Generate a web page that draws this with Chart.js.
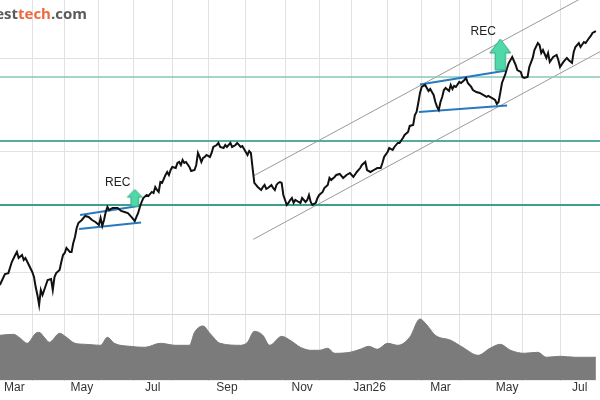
<!DOCTYPE html>
<html>
<head>
<meta charset="utf-8">
<script src="https://cdn.jsdelivr.net/npm/chart.js@4.4.1/dist/chart.umd.min.js"></script>
<style>
html, body { margin: 0; padding: 0; background: #fff; }
#wrap { position: relative; width: 600px; height: 400px; overflow: hidden; }
#logo { position: absolute; top: 3px; right: 513px; font: bold 15px "Open Sans", sans-serif; line-height: 20px; white-space: nowrap; color: #5a5a5a; }
#logo .t { color: #ee6a3c; }
</style>
</head>
<body>
<div id="wrap">
  <canvas id="chart" width="600" height="400"></canvas>
  <div id="logo">invest<span class="t">tech</span>.com</div>
</div>
<script>
// x unit = trading session counted from 3 Mar 2025 (Oslo calendar)
const viewStart = 2.1, viewEnd = 353.4;
const monthStarts = [0, 21, 40, 60, 80, 103, 124, 146, 169, 189, 208, 229, 249, 271, 290, 308, 330, 353];
const labelDays = [10.5, 50, 91.5, 135, 179, 218.5, 260, 299, 341.5];
const tickLabels = ['Mar', 'May', 'Jul', 'Sep', 'Nov', 'Jan26', 'Mar', 'May', 'Jul'];

// price (log axis)
const priceMin = 23.21, priceMax = 57.44;
const priceGrid = [30, 40, 50];
const priceDays = [
  2, 5, 7, 9, 11, 12, 13, 15, 16, 17,
  19, 21, 22, 23, 24, 25, 26, 27, 28, 29,
  30, 32, 33, 34, 35, 37, 38, 39, 40, 41,
  42, 43, 44, 45, 46, 47, 48, 50, 52, 54,
  56, 58, 60, 61, 62, 63, 64, 65, 66, 68,
  69, 71, 73, 75, 77, 79, 81, 82, 83, 84,
  85, 86, 88, 89, 91, 92, 93, 94, 95, 96,
  97, 99, 100, 101, 102, 103, 105, 106, 107, 108,
  109, 110, 111, 113, 114, 116, 117, 118, 119, 120,
  121, 122, 123, 125, 126, 127, 129, 130, 131, 133,
  134, 135, 137, 138, 140, 141, 143, 144, 146, 147,
  148, 149, 150, 151, 152, 153, 155, 156, 157, 158,
  159, 161, 162, 163, 164, 165, 166, 167, 168, 169,
  170, 171, 172, 173, 174, 175, 177, 178, 179, 181,
  182, 183, 184, 185, 187, 188, 189, 191, 192, 194,
  195, 196, 198, 199, 201, 203, 205, 207, 209, 211,
  213, 214, 216, 217, 219, 221, 223, 225, 226, 227,
  229, 230, 232, 233, 235, 236, 238, 239, 241, 242,
  244, 245, 246, 247, 248, 249, 250, 251, 253, 254,
  255, 256, 257, 258, 259, 260, 261, 262, 263, 265,
  266, 267, 268, 269, 271, 272, 274, 275, 276, 278,
  279, 281, 283, 285, 287, 288, 290, 292, 293, 294,
  295, 296, 298, 299, 300, 301, 302, 304, 305, 307,
  308, 309, 311, 312, 314, 315, 317, 318, 319, 320,
  322, 323, 324, 326, 328, 329, 330, 332, 333, 334,
  335, 337, 338, 339, 341, 342, 344, 345, 347, 348,
  349, 351
];
const priceClose = [
  29.14, 29.91, 29.98, 30.78, 31.30, 31.53, 31.08, 31.30, 30.93, 31.08,
  30.56, 30.06, 29.70, 29.00, 28.46, 27.79, 28.80, 28.46, 28.80, 29.14,
  29.49, 29.56, 28.80, 29.70, 29.98, 30.20, 30.78, 31.30, 31.45, 31.83,
  31.68, 31.53, 31.53, 32.21, 32.67, 33.38, 33.78, 34.02, 34.35, 34.27,
  34.02, 33.86, 33.62, 34.18, 33.54, 34.02, 34.68, 35.09, 34.84, 35.01,
  35.01, 35.01, 34.76, 34.68, 34.59, 34.27, 33.94, 34.27, 34.59, 35.09,
  35.51, 35.85, 36.11, 36.02, 36.37, 36.28, 36.80, 36.54, 36.37, 37.24,
  37.16, 37.87, 38.14, 37.87, 38.32, 38.60, 38.50, 38.97, 39.06, 38.78,
  39.25, 38.97, 39.06, 38.60, 38.23, 38.32, 38.78, 39.91, 39.53, 39.06,
  39.44, 39.53, 39.72, 39.53, 39.91, 40.48, 40.67, 40.87, 40.48, 40.38,
  40.67, 40.48, 40.87, 40.48, 40.67, 40.87, 40.48, 40.57, 40.00, 39.72,
  40.09, 39.91, 38.50, 37.16, 36.98, 36.80, 36.54, 36.80, 36.98, 36.63,
  36.71, 36.98, 36.71, 36.54, 36.98, 37.16, 37.24, 37.16, 36.11, 35.68,
  35.26, 35.43, 35.68, 35.85, 35.43, 35.68, 35.51, 35.43, 35.85, 35.51,
  35.68, 36.11, 35.51, 35.26, 35.43, 35.85, 36.11, 36.37, 36.71, 36.98,
  37.60, 37.42, 37.69, 37.87, 37.96, 37.60, 37.87, 38.05, 37.69, 38.14,
  38.50, 38.78, 39.06, 38.32, 38.14, 38.32, 38.50, 38.50, 38.97, 39.53,
  40.00, 40.38, 40.19, 40.48, 40.87, 40.87, 41.36, 41.65, 41.95, 42.56,
  42.66, 43.68, 44.00, 44.95, 46.04, 46.70, 46.81, 46.92, 46.25, 46.47,
  46.14, 45.82, 45.06, 44.53, 44.21, 45.06, 45.60, 46.36, 46.58, 46.25,
  46.92, 46.47, 46.81, 46.70, 47.26, 47.14, 47.48, 47.71, 47.14, 46.70,
  46.36, 46.14, 46.04, 45.82, 45.60, 45.71, 45.49, 45.27, 44.85, 45.06,
  46.04, 47.14, 48.16, 48.86, 49.45, 49.80, 50.15, 49.21, 48.62, 48.39,
  47.82, 47.71, 47.82, 48.97, 50.04, 50.99, 51.85, 51.60, 50.63, 50.99,
  50.04, 50.63, 49.56, 50.15, 50.39, 49.80, 48.97, 49.56, 49.80, 50.04,
  49.80, 49.45, 50.75, 51.36, 51.85, 51.36, 51.97, 51.85, 52.47, 52.72,
  53.10, 53.35
];

// volume (smoothed), lower panel
const volMax = 11.43;
const volGrid = [2];
const volDays = [2, 10, 14, 18, 23, 25, 28, 31, 37, 41, 46, 52, 61, 65, 69, 78, 87, 96, 105, 113,
  116, 121, 125, 131, 143, 147, 151, 156, 160, 167, 172, 178, 184, 189, 194, 198, 207, 213, 218, 223,
  229, 235, 242, 248, 252, 257, 266, 273, 282, 289, 295, 301, 309, 317, 322, 330, 339, 348, 351];
const volValues = [1.36, 1.39, 1.27, 1.12, 1.42, 1.45, 1.30, 1.15, 1.42, 1.30, 1.12, 1.09, 1.06, 1.30, 1.12, 1.03, 1.00, 1.12, 1.06, 1.06,
  1.45, 1.64, 1.42, 1.12, 1.06, 1.15, 1.48, 1.36, 1.06, 1.33, 1.21, 1.00, 0.91, 0.91, 0.97, 0.82, 0.85, 0.94, 1.03, 0.94,
  1.12, 1.06, 1.30, 1.85, 1.67, 1.36, 1.21, 1.00, 0.76, 0.97, 1.09, 0.91, 0.82, 0.85, 0.70, 0.73, 0.70, 0.70, 0.70];

// support / resistance levels
const levels = [47.82, 41.06, 35.26];
const levelColors = ['#86c9b9', '#55ae9d', '#3f9f8d'];
const levelWidths = [1.5, 2, 2];

// rising trend channel and the two rectangle-ish formations, [session, price]
const upperChannel = [[150.8, 37.81], [353.4, 59.08]];
const lowerChannel = [[150.4, 32.49], [353.4, 50.79]];
const wedges = [
  [[49, 34.43], [84.1, 35.20]],
  [[48.4, 33.30], [84.7, 33.82]],
  [[248, 46.98], [298.7, 48.56]],
  [[247.4, 44.00], [299, 44.69]]
];

// buy signals
const recDays = [81, 295];
const recValues = [35.85, 50.45];
const recText = 'REC';
const arrowSizes = [[15, 17], [21, 31]];

const gridColor = '#e2e2e2';

function makeArrow(w, h) {
  const c = document.createElement('canvas');
  c.width = w + 2; c.height = h + 2;
  const g = c.getContext('2d');
  const cx = 1 + w / 2, head = 1 + h * 0.45, sw = w * 0.25;
  g.beginPath();
  g.moveTo(cx, 1);
  g.lineTo(1 + w, head);
  g.lineTo(cx + sw, head);
  g.lineTo(cx + sw, 1 + h);
  g.lineTo(cx - sw, 1 + h);
  g.lineTo(cx - sw, head);
  g.lineTo(1, head);
  g.closePath();
  g.fillStyle = '#4fd8a8';
  g.fill();
  g.strokeStyle = '#35a883';
  g.lineWidth = 1;
  g.stroke();
  return c;
}
const arrowImgs = arrowSizes.map(s => makeArrow(s[0], s[1]));

const pts = (xs, ys) => xs.map((x, i) => ({ x: x, y: ys[i] }));
const seg = (pairs) => pairs.map(p => ({ x: p[0], y: p[1] }));

const datasets = [];
datasets.push({
  data: pts(recDays, recValues), showLine: false, pointStyle: arrowImgs,
  pointRadius: 5, yAxisID: 'y', order: 0
});
const recIndex = 0;
datasets.push({
  data: pts(priceDays, priceClose), borderColor: '#111', borderWidth: 2,
  pointRadius: 0, tension: 0, yAxisID: 'y', order: 1
});
wedges.forEach(w => datasets.push({
  data: seg(w), borderColor: '#2a78bd', borderWidth: 2, pointRadius: 0, yAxisID: 'y', order: 2
}));
levels.forEach((lv, i) => datasets.push({
  data: [{ x: viewStart, y: lv }, { x: viewEnd, y: lv }], borderColor: levelColors[i],
  borderWidth: levelWidths[i], pointRadius: 0, yAxisID: 'y', order: 3
}));
[upperChannel, lowerChannel].forEach(ch => datasets.push({
  data: seg(ch), borderColor: '#9a9a9a', borderWidth: 1, pointRadius: 0, yAxisID: 'y', order: 4
}));
datasets.push({
  data: pts(volDays, volValues), yAxisID: 'yv', fill: 'origin',
  backgroundColor: '#7b7b7b', borderColor: '#7b7b7b', borderWidth: 1,
  pointRadius: 0, cubicInterpolationMode: 'monotone', order: 5
});

const recLabels = {
  id: 'recLabels',
  afterDatasetsDraw(chart) {
    const meta = chart.getDatasetMeta(recIndex);
    const ctx = chart.ctx;
    ctx.save();
    ctx.font = '12px "Liberation Sans", Arial, sans-serif';
    ctx.fillStyle = '#222';
    ctx.textAlign = 'center';
    ctx.textBaseline = 'middle';
    meta.data.forEach((p, i) => ctx.fillText(recText, p.x - 17, p.y - arrowSizes[i][1] / 2 - 7));
    ctx.restore();
  }
};

new Chart(document.getElementById('chart'), {
  type: 'line',
  data: { datasets: datasets },
  plugins: [recLabels],
  options: {
    responsive: false,
    animation: false,
    layout: { autoPadding: false, padding: { bottom: 5 } },
    plugins: { legend: { display: false }, tooltip: { enabled: false } },
    scales: {
      x: {
        type: 'linear', min: viewStart, max: viewEnd,
        border: { display: false },
        grid: {
          drawTicks: false,
          color: c => (c.tick && monthStarts.includes(c.tick.value)) ? gridColor : 'rgba(0,0,0,0)'
        },
        afterBuildTicks: s => {
          s.ticks = monthStarts.concat(labelDays)
            .filter(v => v > viewStart && v < viewEnd - 1)
            .sort((a, b) => a - b)
            .map(v => ({ value: v }));
        },
        ticks: {
          autoSkip: false, maxRotation: 0, minRotation: 0, padding: 0, color: '#333',
          font: { family: '"Liberation Sans", Arial, sans-serif', size: 12 },
          callback: v => { const i = labelDays.indexOf(v); return i < 0 ? '' : tickLabels[i]; }
        }
      },
      y: {
        type: 'logarithmic', min: priceMin, max: priceMax,
        border: { display: false },
        grid: { drawTicks: false, color: gridColor },
        ticks: { display: false },
        afterBuildTicks: s => { s.ticks = priceGrid.map(v => ({ value: v })); }
      },
      yv: {
        type: 'linear', position: 'right', min: 0, max: volMax,
        border: { display: false },
        grid: { drawTicks: false, color: '#d6d6d6' },
        ticks: { display: false },
        afterBuildTicks: s => { s.ticks = volGrid.map(v => ({ value: v })); }
      }
    }
  }
});
</script>
</body>
</html>
